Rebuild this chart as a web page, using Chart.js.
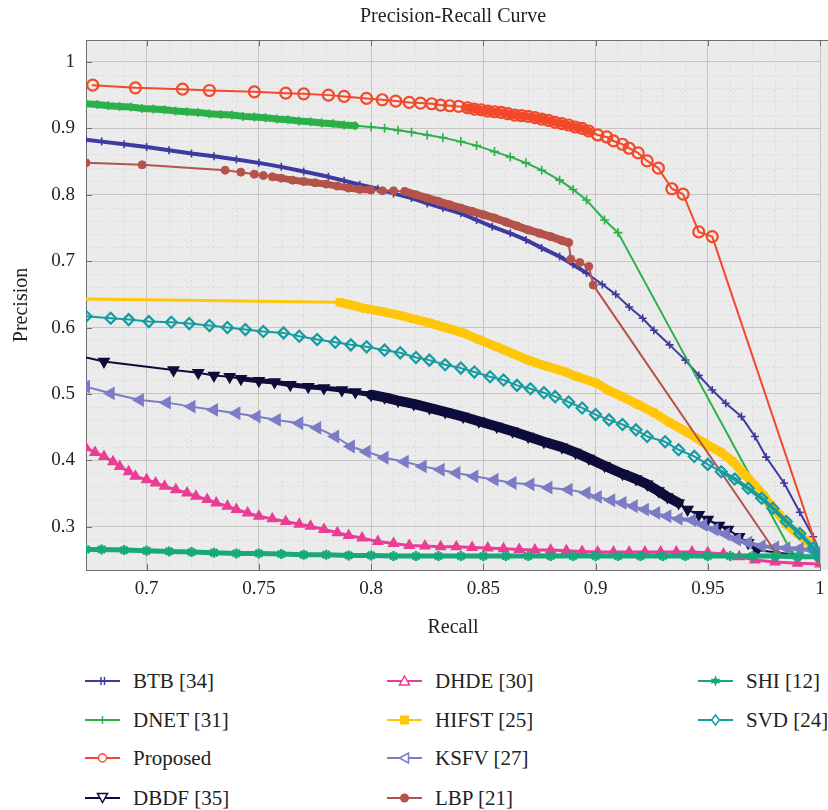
<!DOCTYPE html>
<html lang="en">
<head>
<meta charset="UTF-8">
<title>Precision-Recall Curve</title>
<script src="https://cdn.jsdelivr.net/npm/chart.js@4.4.0/dist/chart.umd.min.js"></script>
<style>
  body { margin: 0; background: #fff; }
  #wrap { position: relative; width: 828px; height: 810px; }
  #chart { display: block; }
  .item { position: absolute; display: flex; align-items: center; height: 26px; white-space: nowrap;
          font-family: "Liberation Serif", "Times New Roman", serif; font-size: 21px; color: #222; }
  .item svg { margin-right: 12px; flex: none; }
</style>
</head>
<body>
<div id="wrap">
  <canvas id="chart" width="828" height="650"></canvas>
  <div id="legend"></div>
</div>
<script>
// Data
const seriesNames = ["BTB [34]", "DNET [31]", "Proposed", "DBDF [35]", "DHDE [30]",
                     "HIFST [25]", "KSFV [27]", "LBP [21]", "SHI [12]", "SVD [24]"];
const recallTicks = [0.7, 0.75, 0.8, 0.85, 0.9, 0.95, 1];
const precisionTicks = [0.3, 0.4, 0.5, 0.6, 0.7, 0.8, 0.9, 1];

const btbRecall = [0.673,0.680,0.690,0.700,0.710,0.720,0.730,0.740,0.750,0.760,0.770,0.781,0.788,0.795,0.803,0.810,0.818,0.825,0.832,0.840,0.847,0.854,0.862,0.869,0.876,0.884,0.890,0.896,0.903,0.909,0.915,0.921,0.926,0.933,0.940,0.946,0.952,0.958,0.965,0.971,0.976,0.984,0.991,0.997,1.0];
const btbPrecision = [0.883,0.880,0.876,0.872,0.867,0.862,0.858,0.853,0.848,0.842,0.835,0.827,0.821,0.815,0.809,0.802,0.795,0.787,0.780,0.772,0.762,0.752,0.742,0.732,0.720,0.707,0.695,0.682,0.665,0.650,0.631,0.614,0.596,0.574,0.551,0.528,0.506,0.486,0.466,0.436,0.405,0.366,0.322,0.285,0.262];

const dnetRecall = [0.673,0.678,0.683,0.688,0.693,0.698,0.703,0.708,0.713,0.718,0.723,0.728,0.733,0.738,0.743,0.748,0.753,0.758,0.763,0.768,0.773,0.778,0.783,0.788,0.793,0.800,0.806,0.812,0.818,0.825,0.832,0.840,0.847,0.855,0.862,0.869,0.876,0.884,0.890,0.896,0.904,0.910,0.988,1.0];
const dnetPrecision = [0.937,0.936,0.934,0.933,0.932,0.930,0.929,0.928,0.926,0.925,0.924,0.922,0.921,0.920,0.918,0.917,0.916,0.914,0.913,0.911,0.910,0.908,0.907,0.905,0.904,0.902,0.900,0.897,0.894,0.890,0.886,0.880,0.874,0.865,0.857,0.848,0.837,0.822,0.808,0.792,0.762,0.743,0.258,0.255];

const proposedRecall = [0.676,0.695,0.716,0.728,0.748,0.762,0.770,0.781,0.788,0.798,0.805,0.811,0.817,0.822,0.827,0.831,0.835,0.839,0.843,0.846,0.849,0.852,0.855,0.858,0.861,0.864,0.867,0.870,0.873,0.876,0.879,0.882,0.885,0.888,0.891,0.894,0.897,0.901,0.905,0.908,0.912,0.915,0.919,0.923,0.928,0.934,0.939,0.946,0.952,1.0];
const proposedPrecision = [0.965,0.961,0.959,0.957,0.955,0.953,0.952,0.950,0.948,0.945,0.943,0.941,0.939,0.938,0.937,0.935,0.934,0.933,0.931,0.929,0.928,0.926,0.925,0.924,0.922,0.920,0.919,0.918,0.916,0.914,0.912,0.909,0.907,0.905,0.902,0.900,0.896,0.890,0.887,0.881,0.876,0.870,0.863,0.851,0.840,0.809,0.801,0.744,0.737,0.255];

const dbdfRecall = [0.673,0.681,0.712,0.723,0.730,0.737,0.742,0.750,0.757,0.764,0.772,0.779,0.787,0.793,0.800,0.806,0.812,0.819,0.826,0.833,0.841,0.848,0.856,0.863,0.870,0.877,0.885,0.891,0.897,0.904,0.912,0.918,0.923,0.928,0.932,0.937,0.941,0.946,0.950,0.955,0.959,0.964,0.968,0.972,1.0];
const dbdfPrecision = [0.555,0.549,0.536,0.532,0.528,0.526,0.523,0.520,0.518,0.514,0.511,0.509,0.506,0.503,0.499,0.495,0.490,0.485,0.479,0.473,0.466,0.459,0.451,0.444,0.436,0.428,0.420,0.412,0.403,0.392,0.380,0.372,0.364,0.354,0.345,0.336,0.326,0.318,0.311,0.302,0.296,0.285,0.276,0.265,0.253];

const dhdeRecall = [0.673,0.677,0.681,0.685,0.688,0.692,0.695,0.700,0.704,0.708,0.713,0.718,0.722,0.727,0.731,0.736,0.740,0.745,0.750,0.756,0.762,0.768,0.773,0.779,0.785,0.790,0.796,0.803,0.810,0.817,0.824,0.831,0.838,0.845,0.852,0.859,0.866,0.873,0.880,0.887,0.894,0.901,0.908,0.915,0.922,0.929,0.936,0.943,0.950,0.957,0.964,0.971,0.980,0.990,1.0];
const dhdePrecision = [0.419,0.412,0.406,0.398,0.391,0.383,0.376,0.371,0.366,0.361,0.356,0.351,0.346,0.341,0.336,0.331,0.326,0.321,0.316,0.312,0.308,0.304,0.301,0.296,0.291,0.287,0.283,0.278,0.275,0.272,0.271,0.270,0.270,0.269,0.268,0.267,0.266,0.265,0.265,0.264,0.263,0.262,0.262,0.262,0.262,0.262,0.262,0.262,0.261,0.259,0.255,0.250,0.247,0.245,0.244];

const hifstRecall = [0.673,0.786,0.790,0.797,0.805,0.812,0.819,0.826,0.833,0.841,0.848,0.856,0.863,0.870,0.877,0.885,0.892,0.900,0.906,0.912,0.919,0.926,0.933,0.941,0.948,0.956,0.961,0.965,0.971,0.975,0.978,0.982,0.985,0.990,0.994,1.0];
const hifstPrecision = [0.643,0.638,0.635,0.629,0.624,0.619,0.613,0.607,0.600,0.592,0.582,0.571,0.561,0.551,0.543,0.535,0.526,0.517,0.505,0.496,0.484,0.472,0.457,0.442,0.427,0.412,0.399,0.384,0.362,0.347,0.333,0.318,0.304,0.290,0.279,0.260];

const ksfvRecall = [0.673,0.684,0.697,0.709,0.720,0.730,0.740,0.749,0.758,0.768,0.776,0.784,0.791,0.798,0.806,0.815,0.823,0.831,0.838,0.846,0.855,0.863,0.871,0.879,0.888,0.896,0.901,0.907,0.912,0.917,0.922,0.927,0.932,0.937,0.943,0.948,0.953,0.958,0.963,0.968,0.974,0.980,0.985,0.991,0.997,1.0];
const ksfvPrecision = [0.511,0.501,0.491,0.487,0.481,0.476,0.471,0.466,0.461,0.456,0.449,0.436,0.421,0.413,0.404,0.398,0.391,0.386,0.381,0.376,0.371,0.366,0.364,0.359,0.356,0.351,0.345,0.340,0.336,0.331,0.326,0.321,0.316,0.312,0.310,0.303,0.296,0.289,0.281,0.276,0.271,0.269,0.268,0.267,0.264,0.261];

const lbpRecall = [0.673,0.698,0.735,0.742,0.748,0.752,0.756,0.760,0.765,0.770,0.775,0.780,0.785,0.790,0.795,0.800,0.805,0.810,0.815,0.820,0.825,0.830,0.835,0.840,0.845,0.850,0.855,0.860,0.865,0.870,0.875,0.880,0.885,0.888,0.889,0.893,0.897,0.899,0.981];
const lbpPrecision = [0.848,0.845,0.837,0.834,0.831,0.829,0.827,0.825,0.822,0.820,0.818,0.816,0.813,0.810,0.808,0.807,0.806,0.806,0.805,0.800,0.795,0.790,0.785,0.780,0.775,0.770,0.765,0.759,0.753,0.747,0.742,0.737,0.731,0.728,0.703,0.698,0.692,0.664,0.258];

const shiRecall = [0.673,0.680,0.690,0.700,0.710,0.720,0.730,0.740,0.750,0.760,0.770,0.780,0.790,0.800,0.810,0.820,0.830,0.840,0.850,0.860,0.870,0.880,0.890,0.900,0.910,0.920,0.930,0.940,0.950,0.960,0.970,0.980,0.990,1.0];
const shiPrecision = [0.266,0.266,0.265,0.264,0.263,0.262,0.261,0.260,0.260,0.259,0.258,0.258,0.257,0.257,0.256,0.256,0.256,0.256,0.256,0.256,0.256,0.256,0.256,0.256,0.256,0.256,0.256,0.256,0.256,0.256,0.256,0.256,0.255,0.255];

const svdRecall = [0.673,0.684,0.692,0.701,0.711,0.719,0.728,0.736,0.744,0.752,0.761,0.768,0.776,0.784,0.791,0.798,0.806,0.813,0.820,0.826,0.833,0.840,0.846,0.853,0.859,0.865,0.871,0.877,0.882,0.888,0.894,0.900,0.906,0.912,0.918,0.923,0.931,0.937,0.944,0.950,0.956,0.962,0.968,0.974,0.979,0.985,0.991,0.997,1.0];
const svdPrecision = [0.617,0.614,0.612,0.609,0.608,0.606,0.603,0.600,0.597,0.594,0.592,0.587,0.582,0.578,0.574,0.571,0.566,0.562,0.555,0.551,0.544,0.539,0.533,0.526,0.521,0.513,0.508,0.502,0.496,0.488,0.479,0.469,0.461,0.454,0.446,0.436,0.428,0.416,0.406,0.394,0.383,0.372,0.358,0.343,0.328,0.308,0.290,0.268,0.255];

const recallSeries = [btbRecall, dnetRecall, proposedRecall, dbdfRecall, dhdeRecall, hifstRecall, ksfvRecall, lbpRecall, shiRecall, svdRecall];
const precisionSeries = [btbPrecision, dnetPrecision, proposedPrecision, dbdfPrecision, dhdePrecision, hifstPrecision, ksfvPrecision, lbpPrecision, shiPrecision, svdPrecision];

// Styles (same order as seriesNames)
const styles = [
  { color: "#3d3b9f", point: "cross",    r: 4,   pw: 1.6, fill: false, thin: 2, bands: [[0.673, 0.896, 4]], icon: "btb" },
  { color: "#2bb04a", point: "cross",    r: 4.5, pw: 1.6, fill: false, thin: 2, bands: [[0.673, 0.793, 7]], icon: "plus" },
  { color: "#f2492a", point: "circle",   r: 5.5, pw: 2.2, fill: false, thin: 2, bands: [[0.843, 0.897, 8]], icon: "circle" },
  { color: "#0d0c3b", point: "triangle", r: 6,   pw: 1.5, fill: true,  thin: 2, rot: 180, hideFirst: true, bands: [[0.742, 0.800, 5], [0.800, 0.937, 10]], icon: "triDown" },
  { color: "#ea3d96", point: "triangle", r: 5.5, pw: 1.5, fill: true,  thin: 3, bands: [], icon: "triUp" },
  { color: "#ffc60a", point: "rect",     r: 5,   pw: 1,   fill: true,  thin: 3, hideFirst: true, bands: [[0.786, 1.0, 9]], icon: "square" },
  { color: "#7c7cc6", point: "triangle", r: 6.5, pw: 1.5, fill: true,  thin: 2, rot: 270, bands: [[0.937, 1.0, 4]], icon: "triLeft" },
  { color: "#b4534b", point: "circle",   r: 4,   pw: 1,   fill: true,  thin: 2, bands: [[0.756, 0.800, 7], [0.815, 0.888, 8]], icon: "dot" },
  { color: "#17a97b", point: "star",     r: 5,   pw: 2.5, fill: true,  thin: 5, bands: [], icon: "star" },
  { color: "#169ba0", point: "rectRot",  r: 5.5, pw: 2.2, fill: false, thin: 2, bands: [[0.956, 1.0, 4]], icon: "diamond" }
];

const SERIF = "'Liberation Serif', 'Times New Roman', serif";
const TEXT = "#222";

function isIn(list, v) {
  return list.some(t => Math.abs(t - v) < 1e-6);
}

function gridColor(v, majors, minorStep) {
  if (v === undefined) return "rgba(0,0,0,0)";
  if (isIn(majors, v)) return "#c6c6c6";
  const k = v / minorStep;
  return Math.abs(k - Math.round(k)) < 1e-6 ? "#dadada" : "rgba(0,0,0,0)";
}

function gridDash(v, majors) {
  if (v === undefined || isIn(majors, v)) return [];
  return [2, 3];
}

function segWidth(s) {
  return c => {
    const a = c.p0.parsed.x, b = c.p1.parsed.x;
    for (const [lo, hi, w] of s.bands) {
      if (a >= lo - 1e-9 && b <= hi + 1e-9) return w;
    }
    return s.thin;
  };
}

const datasets = seriesNames.map((name, i) => {
  const s = styles[i];
  return {
    label: name,
    data: recallSeries[i].map((x, j) => ({ x: x, y: precisionSeries[i][j] })),
    order: seriesNames.length - i,
    borderColor: s.color,
    borderWidth: s.thin,
    borderCapStyle: "round",
    borderJoinStyle: "round",
    segment: { borderWidth: segWidth(s) },
    pointStyle: s.point,
    pointRadius: c => (s.hideFirst && c.dataIndex === 0) ? 0 : s.r,
    pointBorderWidth: s.pw,
    pointBorderColor: s.color,
    pointBackgroundColor: s.fill ? s.color : "rgba(0,0,0,0)",
    pointRotation: s.rot || 0,
    tension: 0
  };
});

const framePlugin = {
  id: "frame",
  beforeDraw(chart) {
    const { ctx, chartArea: a } = chart;
    ctx.save();
    ctx.fillStyle = "#ebebeb";
    ctx.fillRect(a.left, a.top, chart.width - a.left, a.bottom - a.top);
    ctx.restore();
  },
  afterDraw(chart) {
    const { ctx, chartArea: a, scales } = chart;
    ctx.save();
    ctx.strokeStyle = "#6e6e6e";
    ctx.lineWidth = 1;
    ctx.beginPath();
    ctx.moveTo(a.left, a.top + 0.5);
    ctx.lineTo(chart.width, a.top + 0.5);
    for (const v of recallTicks) {
      const px = Math.round(scales.x.getPixelForValue(v)) + 0.5;
      ctx.moveTo(px, a.top);
      ctx.lineTo(px, a.top + 6);
      ctx.moveTo(px, a.bottom);
      ctx.lineTo(px, a.bottom - 6);
    }
    for (const v of precisionTicks) {
      const py = Math.round(scales.y.getPixelForValue(v)) + 0.5;
      ctx.moveTo(a.left, py);
      ctx.lineTo(a.left + 6, py);
    }
    ctx.stroke();
    ctx.restore();
  }
};

new Chart(document.getElementById("chart").getContext("2d"), {
  type: "line",
  data: { datasets: datasets },
  plugins: [framePlugin],
  options: {
    responsive: false,
    animation: false,
    devicePixelRatio: 1,
    events: [],
    layout: { padding: 0 },
    plugins: {
      legend: { display: false },
      tooltip: { enabled: false },
      title: {
        display: true,
        fullSize: false,
        text: "Precision-Recall Curve",
        color: TEXT,
        font: { family: SERIF, size: 20, weight: "normal" },
        padding: { top: 5, bottom: 11 }
      }
    },
    scales: {
      x: {
        type: "linear",
        min: 0.673,
        max: 1.0,
        afterFit: s => { s.height = 80; s.paddingLeft = 0; s.paddingRight = 5; },
        title: {
          display: true, text: "Recall", color: TEXT,
          font: { family: SERIF, size: 20 },
          padding: { top: 0, bottom: 10 }
        },
        ticks: {
          stepSize: 0.01, autoSkip: false, maxRotation: 0, padding: 8,
          color: TEXT, font: { family: SERIF, size: 19 },
          callback: v => isIn(recallTicks, v) ? String(Math.round(v * 100) / 100) : ""
        },
        grid: {
          drawTicks: false, lineWidth: 1,
          color: c => gridColor(c.tick && c.tick.value, recallTicks, 0.01)
        },
        border: { color: "#6e6e6e", dash: c => gridDash(c.tick && c.tick.value, recallTicks) }
      },
      y: {
        type: "linear",
        min: 0.235,
        max: 1.033,
        afterFit: s => { s.width = 86; },
        title: {
          display: true, text: "Precision", color: TEXT,
          font: { family: SERIF, size: 20 },
          padding: { top: 10, bottom: 0 }
        },
        ticks: {
          stepSize: 0.02, autoSkip: false, padding: 11,
          color: TEXT, font: { family: SERIF, size: 19 },
          callback: v => isIn(precisionTicks, v) ? String(Math.round(v * 10) / 10) : ""
        },
        grid: {
          drawTicks: false, lineWidth: 1,
          color: c => gridColor(c.tick && c.tick.value, precisionTicks, 0.02)
        },
        border: { color: "#6e6e6e", dash: c => gridDash(c.tick && c.tick.value, precisionTicks) }
      }
    }
  }
});

// Legend (HTML, three columns filled top to bottom)
function legendIcon(kind, color) {
  let mk = "";
  const st = `stroke="${color}"`;
  switch (kind) {
    case "btb":
      mk = `<line x1="16" y1="6" x2="16" y2="14" ${st} stroke-width="1.5"/><line x1="19.5" y1="6" x2="19.5" y2="14" ${st} stroke-width="1.5"/>`; break;
    case "plus":
      mk = `<line x1="17.5" y1="6" x2="17.5" y2="14" ${st} stroke-width="1.5"/>`; break;
    case "circle":
      mk = `<circle cx="17.5" cy="10" r="4" fill="#fff" ${st} stroke-width="1.5"/>`; break;
    case "triDown":
      mk = `<polygon points="12.5,5.5 22.5,5.5 17.5,14.5" fill="#fff" ${st} stroke-width="1.5"/>`; break;
    case "triUp":
      mk = `<polygon points="17.5,5 22.5,14 12.5,14" fill="#fff" ${st} stroke-width="1.5"/>`; break;
    case "square":
      mk = `<rect x="13" y="5.5" width="9" height="9" fill="${color}"/>`; break;
    case "triLeft":
      mk = `<polygon points="12.5,10 21.5,5 21.5,15" fill="#fff" ${st} stroke-width="1.5"/>`; break;
    case "dot":
      mk = `<circle cx="17.5" cy="10" r="4.5" fill="${color}"/>`; break;
    case "star":
      mk = `<polygon points="17.5,4.5 19,8 22.5,7.5 20.5,10 22.5,12.5 19,12 17.5,15.5 16,12 12.5,12.5 14.5,10 12.5,7.5 16,8" fill="${color}"/>`; break;
    case "diamond":
      mk = `<polygon points="17.5,5 21.5,10 17.5,15 13.5,10" fill="#fff" ${st} stroke-width="1.5"/>`; break;
  }
  return `<svg width="36" height="20" viewBox="0 0 36 20"><line x1="0" y1="10" x2="35" y2="10" ${st} stroke-width="2"/>${mk}</svg>`;
}

const legendCols = [85, 387, 698];
const legendRows = [681, 720, 758, 798];
const legendEl = document.getElementById("legend");
seriesNames.forEach((name, i) => {
  const div = document.createElement("div");
  div.className = "item";
  div.style.left = legendCols[Math.floor(i / 4)] + "px";
  div.style.top = (legendRows[i % 4] - 13) + "px";
  div.innerHTML = legendIcon(styles[i].icon, styles[i].color) + "<span>" + name + "</span>";
  legendEl.appendChild(div);
});
</script>
</body>
</html>
